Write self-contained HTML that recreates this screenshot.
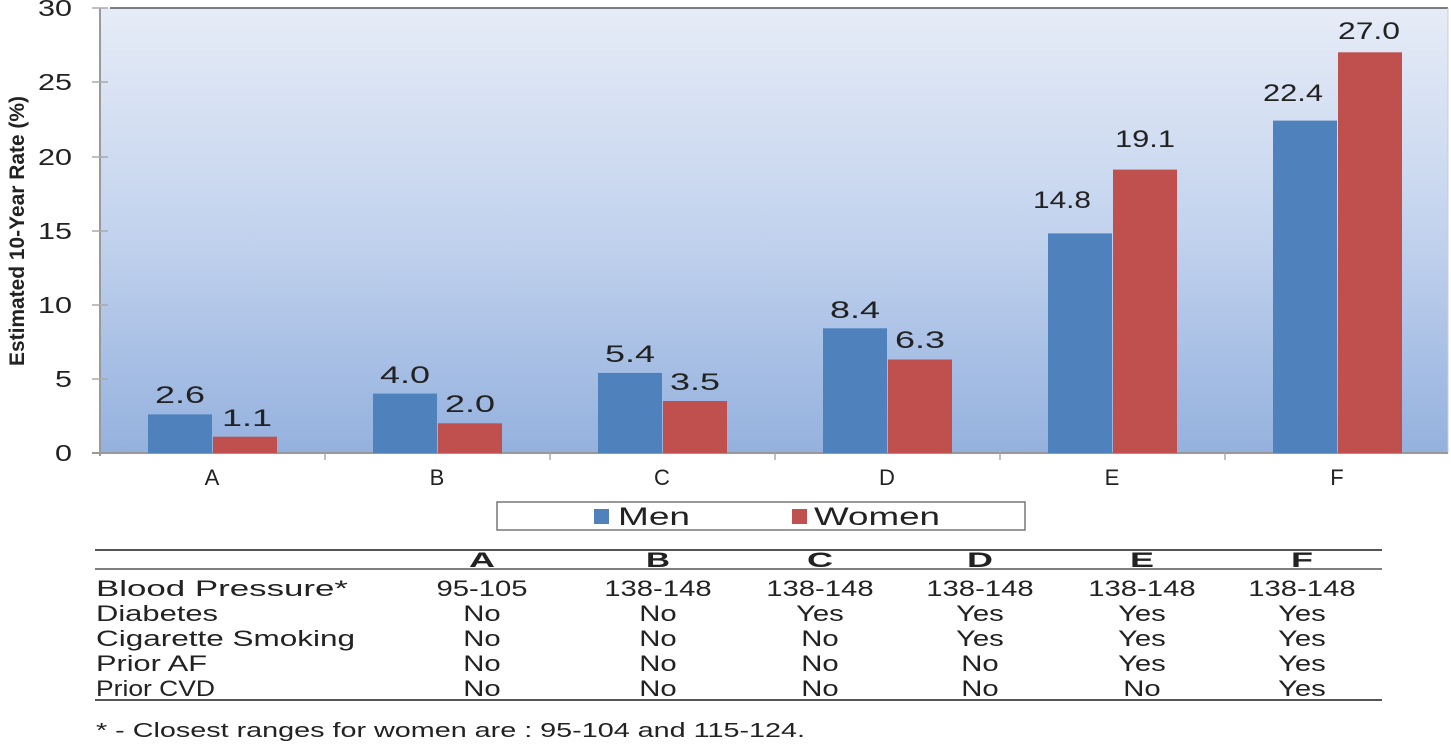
<!DOCTYPE html>
<html><head><meta charset="utf-8"><style>
body{margin:0;background:#fff;width:1451px;height:742px;overflow:hidden}
svg text{font-family:"Liberation Sans",Arial,sans-serif;fill:#222}
</style></head><body>
<svg width="1451" height="742" xmlns="http://www.w3.org/2000/svg">
<defs><linearGradient id="bg" x1="0" y1="0" x2="0" y2="1">
<stop offset="0" stop-color="#e6ecf7"/><stop offset="0.5" stop-color="#c3d3ee"/><stop offset="1" stop-color="#94b1de"/></linearGradient></defs>
<rect x="100" y="8" width="1348" height="445" fill="url(#bg)"/>
<line x1="110" y1="8" x2="1448" y2="8" stroke="#555" stroke-width="1.5"/>
<line x1="1448" y1="8" x2="1448" y2="453" stroke="#ccc" stroke-width="1"/>
<line x1="100" y1="8" x2="100" y2="456" stroke="#999" stroke-width="2"/>
<line x1="92" y1="453" x2="1448" y2="453" stroke="#999" stroke-width="2"/>
<g stroke="#aaa" stroke-width="1.5">
<line x1="92" y1="8" x2="108" y2="8"/><line x1="92" y1="82" x2="108" y2="82"/><line x1="92" y1="157" x2="108" y2="157"/><line x1="92" y1="231" x2="108" y2="231"/><line x1="92" y1="305" x2="108" y2="305"/><line x1="92" y1="379" x2="108" y2="379"/>
<line x1="325" y1="453" x2="325" y2="460"/><line x1="550" y1="453" x2="550" y2="460"/><line x1="775" y1="453" x2="775" y2="460"/><line x1="1000" y1="453" x2="1000" y2="460"/><line x1="1225" y1="453" x2="1225" y2="460"/>
</g>
<g font-size="23">
<text x="38" y="16" textLength="34" lengthAdjust="spacingAndGlyphs">30</text><text x="38" y="90" textLength="34" lengthAdjust="spacingAndGlyphs">25</text><text x="38" y="165" textLength="34" lengthAdjust="spacingAndGlyphs">20</text><text x="38" y="239" textLength="34" lengthAdjust="spacingAndGlyphs">15</text><text x="38" y="313" textLength="34" lengthAdjust="spacingAndGlyphs">10</text><text x="55" y="387" textLength="17" lengthAdjust="spacingAndGlyphs">5</text><text x="55" y="461" textLength="17" lengthAdjust="spacingAndGlyphs">0</text>
</g>
<text transform="translate(24,231) rotate(-90)" font-size="21" font-weight="bold" text-anchor="middle" textLength="270" lengthAdjust="spacingAndGlyphs">Estimated 10-Year Rate (%)</text>
<g fill="#4f81bd">
<rect x="148" y="414.4" width="64" height="38.6"/><rect x="373" y="393.6" width="64" height="59.4"/><rect x="598" y="372.9" width="64" height="80.1"/><rect x="823" y="328.3" width="64" height="124.7"/><rect x="1048" y="233.4" width="64" height="219.6"/><rect x="1273" y="120.6" width="64" height="332.4"/>
</g>
<g fill="#c0504d">
<rect x="213" y="436.7" width="64" height="16.3"/><rect x="438" y="423.3" width="64" height="29.7"/><rect x="663" y="401" width="64" height="52"/><rect x="888" y="359.5" width="64" height="93.5"/><rect x="1113" y="169.6" width="64" height="283.4"/><rect x="1338" y="52.3" width="64" height="400.7"/>
</g>
<g font-size="24">
<text x="155" y="403" textLength="50" lengthAdjust="spacingAndGlyphs">2.6</text><text x="222" y="426" textLength="50" lengthAdjust="spacingAndGlyphs">1.1</text>
<text x="380" y="383" textLength="50" lengthAdjust="spacingAndGlyphs">4.0</text><text x="445" y="412" textLength="50" lengthAdjust="spacingAndGlyphs">2.0</text>
<text x="605" y="362" textLength="50" lengthAdjust="spacingAndGlyphs">5.4</text><text x="670" y="390" textLength="50" lengthAdjust="spacingAndGlyphs">3.5</text>
<text x="830" y="318" textLength="50" lengthAdjust="spacingAndGlyphs">8.4</text><text x="895" y="348" textLength="50" lengthAdjust="spacingAndGlyphs">6.3</text>
<text x="1033" y="208" textLength="58" lengthAdjust="spacingAndGlyphs">14.8</text><text x="1115" y="147" textLength="60" lengthAdjust="spacingAndGlyphs">19.1</text>
<text x="1263" y="101" textLength="60" lengthAdjust="spacingAndGlyphs">22.4</text><text x="1338" y="39" textLength="62" lengthAdjust="spacingAndGlyphs">27.0</text>
</g>
<g font-size="22" text-anchor="middle">
<text x="212" y="485">A</text><text x="437" y="485">B</text><text x="662" y="485">C</text><text x="887" y="485">D</text><text x="1112" y="485">E</text><text x="1337" y="485">F</text>
</g>
<rect x="497" y="502" width="528" height="28" fill="#fff" stroke="#777" stroke-width="1.5"/>
<rect x="594" y="509" width="15" height="15" fill="#4f81bd"/>
<text x="618" y="525" font-size="25" textLength="72" lengthAdjust="spacingAndGlyphs">Men</text>
<rect x="792" y="509" width="15" height="15" fill="#c0504d"/>
<text x="814" y="525" font-size="25" textLength="126" lengthAdjust="spacingAndGlyphs">Women</text>
<line x1="95" y1="550" x2="1382" y2="550" stroke="#555" stroke-width="2"/>
<line x1="95" y1="569" x2="1382" y2="569" stroke="#555" stroke-width="1.5"/>
<line x1="95" y1="700" x2="1382" y2="700" stroke="#555" stroke-width="2"/>
<g font-size="21" font-weight="bold" text-anchor="middle">
<text x="482" y="567" textLength="26" lengthAdjust="spacingAndGlyphs">A</text><text x="658" y="567" textLength="24" lengthAdjust="spacingAndGlyphs">B</text><text x="820" y="567" textLength="26" lengthAdjust="spacingAndGlyphs">C</text><text x="980" y="567" textLength="26" lengthAdjust="spacingAndGlyphs">D</text><text x="1142" y="567" textLength="24" lengthAdjust="spacingAndGlyphs">E</text><text x="1302" y="567" textLength="22" lengthAdjust="spacingAndGlyphs">F</text>
</g>
<g font-size="22">
<text x="96" y="596" textLength="252" lengthAdjust="spacingAndGlyphs">Blood Pressure*</text>
<text x="96" y="621" textLength="122" lengthAdjust="spacingAndGlyphs">Diabetes</text>
<text x="96" y="646" textLength="259" lengthAdjust="spacingAndGlyphs">Cigarette Smoking</text>
<text x="96" y="671" textLength="111" lengthAdjust="spacingAndGlyphs">Prior AF</text>
<text x="96" y="696" textLength="119" lengthAdjust="spacingAndGlyphs">Prior CVD</text>
</g>
<g font-size="22" text-anchor="middle" transform="scale(1.33,1)">
<text x="362.4" y="596">95-105</text><text x="494.7" y="596">138-148</text><text x="616.5" y="596">138-148</text><text x="736.8" y="596">138-148</text><text x="858.6" y="596">138-148</text><text x="978.9" y="596">138-148</text>
<text x="362.4" y="621">No</text><text x="494.7" y="621">No</text><text x="616.5" y="621">Yes</text><text x="736.8" y="621">Yes</text><text x="858.6" y="621">Yes</text><text x="978.9" y="621">Yes</text>
<text x="362.4" y="646">No</text><text x="494.7" y="646">No</text><text x="616.5" y="646">No</text><text x="736.8" y="646">Yes</text><text x="858.6" y="646">Yes</text><text x="978.9" y="646">Yes</text>
<text x="362.4" y="671">No</text><text x="494.7" y="671">No</text><text x="616.5" y="671">No</text><text x="736.8" y="671">No</text><text x="858.6" y="671">Yes</text><text x="978.9" y="671">Yes</text>
<text x="362.4" y="696">No</text><text x="494.7" y="696">No</text><text x="616.5" y="696">No</text><text x="736.8" y="696">No</text><text x="858.6" y="696">No</text><text x="978.9" y="696">Yes</text>
</g>
<text x="96" y="737" font-size="20" textLength="709" lengthAdjust="spacingAndGlyphs">* - Closest ranges for women are : 95-104 and 115-124.</text>
</svg>
</body></html>
